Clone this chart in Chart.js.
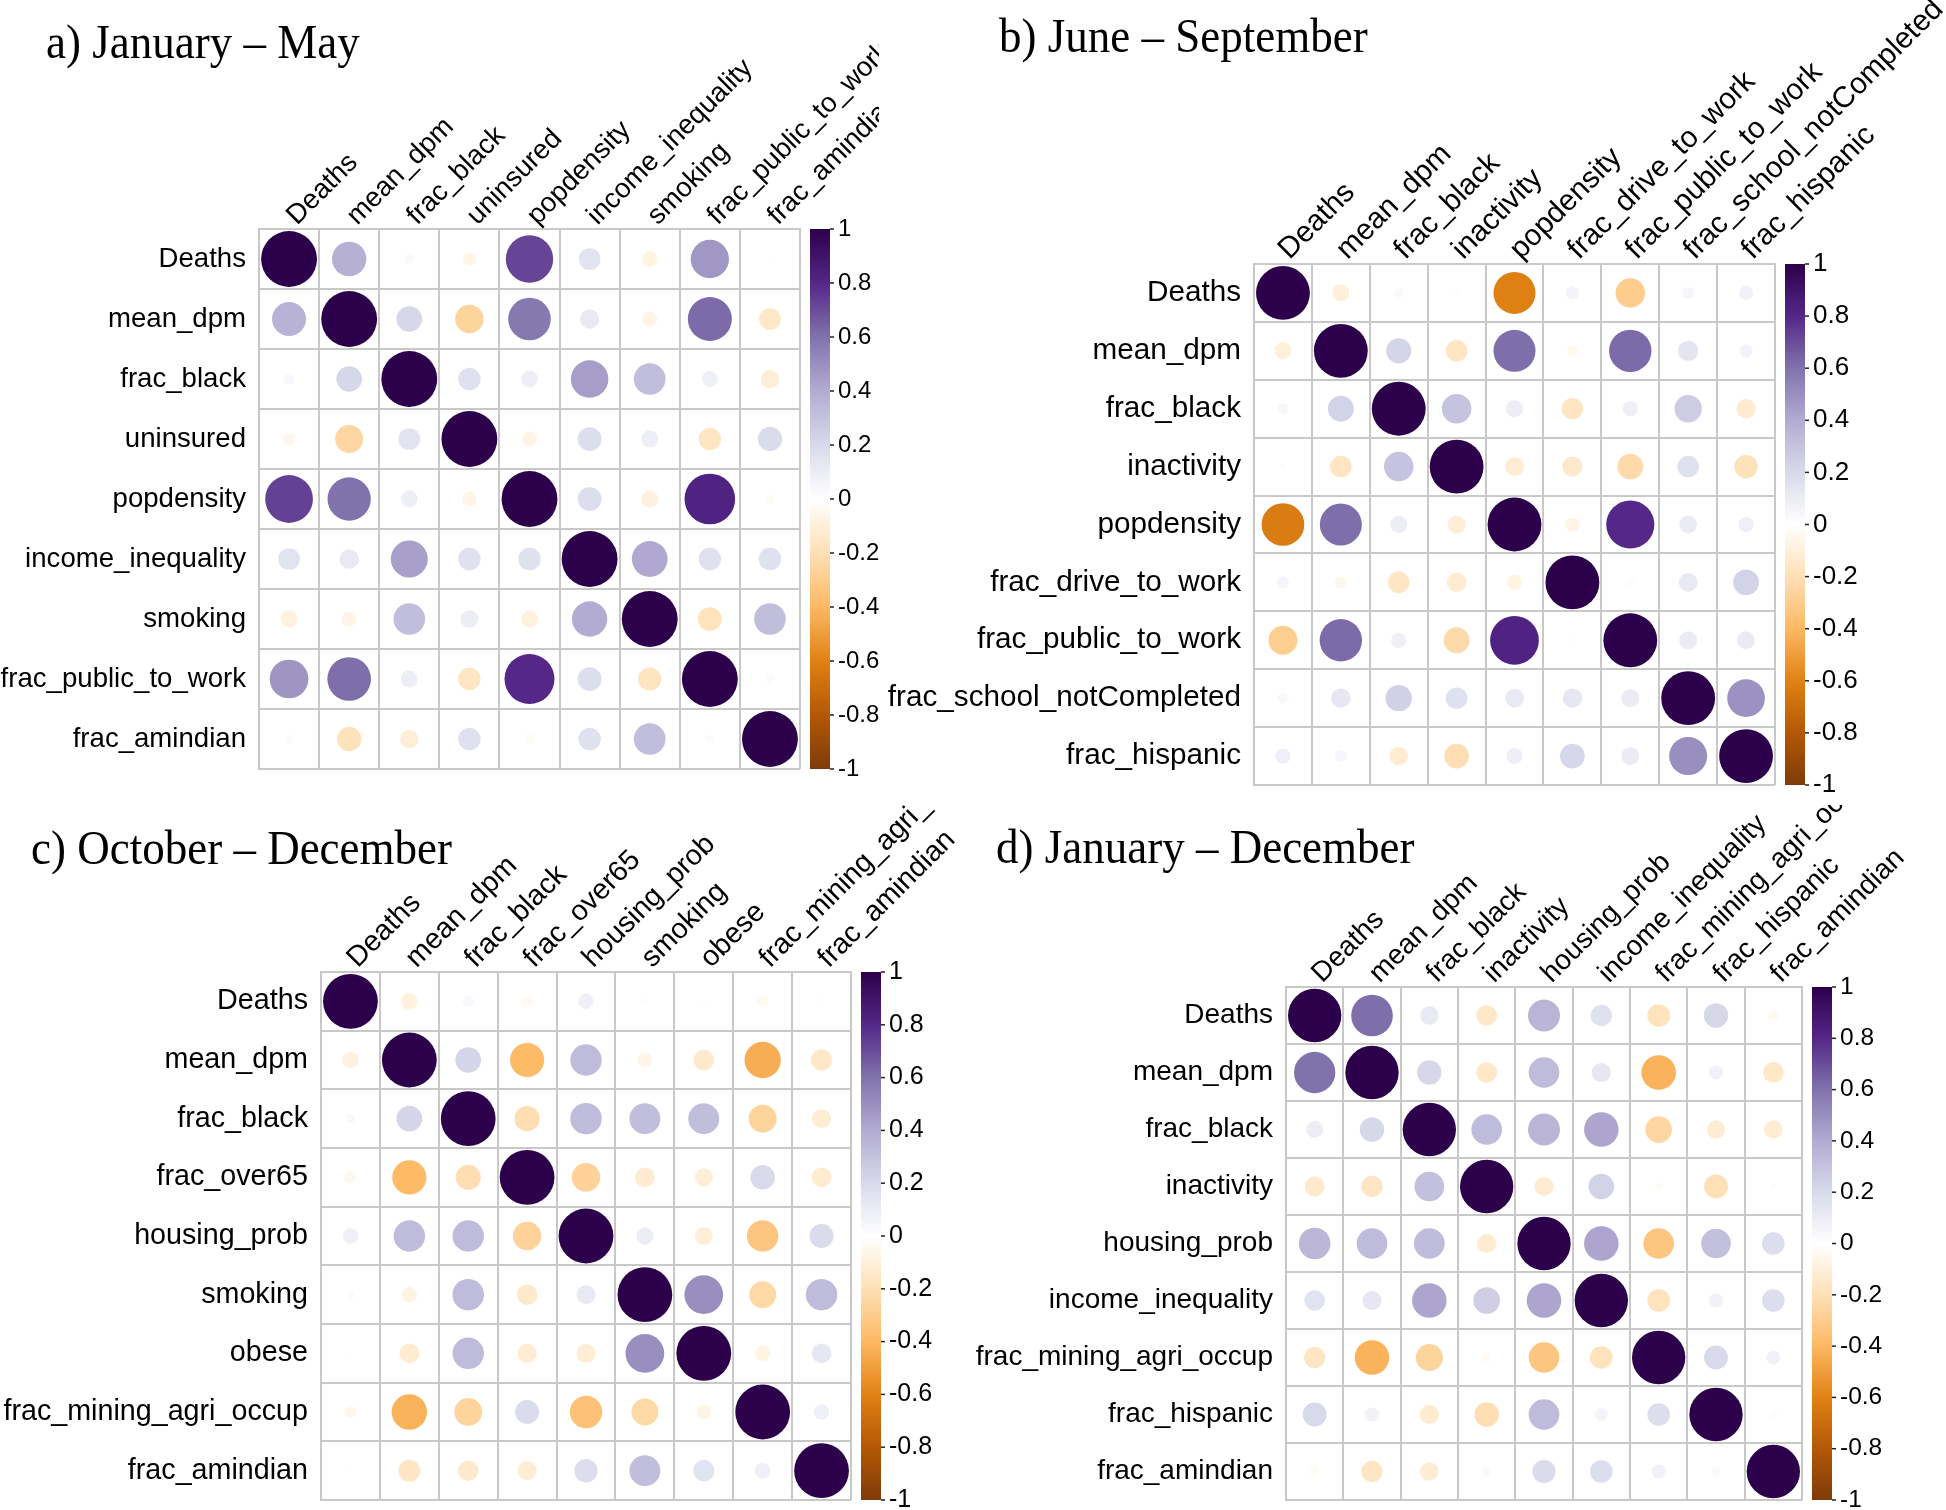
<!DOCTYPE html>
<html>
<head>
<meta charset="utf-8">
<script src="https://cdn.jsdelivr.net/npm/chart.js@4.4.1/dist/chart.umd.min.js"></script>
<style>
  body { margin: 0; background: #fff; }
  #wrap { position: relative; width: 1946px; height: 1510px; overflow: hidden; }
  canvas { position: absolute; }
</style>
</head>
<body>
<div id="wrap">
  <canvas id="chartA" width="879" height="805" style="left:0;top:0"></canvas>
  <canvas id="chartB" width="1067" height="805" style="left:879px;top:0"></canvas>
  <canvas id="chartC" width="960" height="705" style="left:0;top:805px"></canvas>
  <canvas id="chartD" width="986" height="705" style="left:960px;top:805px"></canvas>
</div>
<script>
// variables of each panel (rows == columns)
const varsA = ['Deaths', 'mean_dpm', 'frac_black', 'uninsured', 'popdensity',
  'income_inequality', 'smoking', 'frac_public_to_work', 'frac_amindian'];
const varsB = ['Deaths', 'mean_dpm', 'frac_black', 'inactivity', 'popdensity',
  'frac_drive_to_work', 'frac_public_to_work', 'frac_school_notCompleted', 'frac_hispanic'];
const varsC = ['Deaths', 'mean_dpm', 'frac_black', 'frac_over65', 'housing_prob',
  'smoking', 'obese', 'frac_mining_agri_occup', 'frac_amindian'];
const varsD = ['Deaths', 'mean_dpm', 'frac_black', 'inactivity', 'housing_prob',
  'income_inequality', 'frac_mining_agri_occup', 'frac_hispanic', 'frac_amindian'];

// correlation values, read row by row
const corrA = [
  [1, 0.38, 0.03, -0.06, 0.72, 0.15, -0.08, 0.47, 0.005],
  [0.37, 1, 0.21, -0.26, 0.58, 0.12, -0.07, 0.62, -0.15],
  [0.04, 0.21, 1, 0.16, 0.09, 0.45, 0.32, 0.08, -0.11],
  [-0.05, -0.25, 0.15, 1, -0.07, 0.18, 0.09, -0.16, 0.19],
  [0.73, 0.6, 0.09, -0.07, 1, 0.18, -0.09, 0.82, -0.02],
  [0.15, 0.12, 0.44, 0.16, 0.16, 1, 0.41, 0.16, 0.16],
  [-0.09, -0.07, 0.32, 0.1, -0.09, 0.4, 1, -0.18, 0.32],
  [0.48, 0.61, 0.09, -0.16, 0.8, 0.18, -0.17, 1, 0.02],
  [0.02, -0.19, -0.11, 0.16, -0.03, 0.16, 0.32, 0.02, 1]
];
const corrB = [
  [1, -0.1, 0.03, -0.01, -0.61, 0.06, -0.3, 0.05, 0.07],
  [-0.1, 1, 0.22, -0.16, 0.61, -0.04, 0.62, 0.14, 0.06],
  [0.04, 0.23, 1, 0.3, 0.1, -0.16, 0.08, 0.26, -0.13],
  [0.015, -0.16, 0.3, 1, -0.12, -0.14, -0.23, 0.16, -0.19],
  [-0.63, 0.61, 0.1, -0.11, 1, -0.07, 0.8, 0.11, 0.08],
  [0.05, -0.05, -0.16, -0.13, -0.08, 1, -0.02, 0.12, 0.23],
  [-0.29, 0.62, 0.08, -0.23, 0.82, 0.01, 1, 0.11, 0.11],
  [0.04, 0.13, 0.24, 0.16, 0.12, 0.13, 0.11, 1, 0.49],
  [0.08, 0.05, -0.12, -0.21, 0.09, 0.21, 0.11, 0.5, 1]
];
const corrC = [
  [1, -0.09, 0.04, -0.04, 0.08, 0.01, 0.01, -0.04, 0.01],
  [-0.09, 1, 0.22, -0.39, 0.33, -0.07, -0.14, -0.44, -0.15],
  [0.03, 0.22, 1, -0.21, 0.33, 0.32, 0.32, -0.26, -0.12],
  [-0.05, -0.39, -0.21, 1, -0.27, -0.13, -0.11, 0.2, -0.13],
  [0.08, 0.33, 0.33, -0.27, 1, 0.1, -0.11, -0.33, 0.19],
  [0.02, -0.08, 0.33, -0.14, 0.12, 1, 0.5, -0.24, 0.33],
  [0.01, -0.13, 0.33, -0.12, -0.12, 0.5, 1, -0.08, 0.13],
  [-0.05, -0.42, -0.26, 0.19, -0.35, -0.24, -0.07, 1, 0.08],
  [0.01, -0.16, -0.14, -0.12, 0.18, 0.32, 0.15, 0.08, 1]
];
const corrD = [
  [1, 0.61, 0.12, -0.15, 0.36, 0.16, -0.18, 0.21, -0.04],
  [0.6, 1, 0.21, -0.15, 0.33, 0.13, -0.42, 0.07, -0.15],
  [0.1, 0.21, 1, 0.33, 0.36, 0.42, -0.25, -0.12, -0.12],
  [-0.14, -0.16, 0.31, 1, -0.13, 0.23, -0.02, -0.2, 0.015],
  [0.35, 0.33, 0.33, -0.13, 1, 0.42, -0.33, 0.31, 0.18],
  [0.15, 0.13, 0.42, 0.25, 0.42, 1, -0.18, 0.07, 0.18],
  [-0.16, -0.42, -0.26, -0.03, -0.33, -0.18, 1, 0.2, 0.07],
  [0.2, 0.07, -0.13, -0.21, 0.33, 0.06, 0.18, 1, -0.02],
  [-0.03, -0.16, -0.12, 0.03, 0.19, 0.18, 0.07, 0.03, 1]
];

const titles = ['a) January – May', 'b) June – September', 'c) October – December', 'd) January – December'];
const colorbarTicks = [-1, -0.8, -0.6, -0.4, -0.2, 0, 0.2, 0.4, 0.6, 0.8, 1];

// PuOr diverging palette, -1 .. 1
const puOr = ['#7f3b08', '#b35806', '#e08214', '#fdb863', '#fee0b6', '#ffffff',
  '#d8daeb', '#b2abd2', '#8073ac', '#542788', '#2d004b'];

function hexRgb(h) {
  return [parseInt(h.slice(1, 3), 16), parseInt(h.slice(3, 5), 16), parseInt(h.slice(5, 7), 16)];
}
function corrColor(v) {
  let t = (v + 1) / 2 * 10;
  let i = Math.min(9, Math.max(0, Math.floor(t)));
  let f = t - i;
  let a = hexRgb(puOr[i]), b = hexRgb(puOr[i + 1]);
  let c = a.map((x, k) => Math.round(x + (b[k] - x) * f));
  return `rgb(${c[0]},${c[1]},${c[2]})`;
}

const labelFont = 'Liberation Sans, Arial, Helvetica, sans-serif';
const gridColor = '#c8c8c8';

// no automatic padding from labels, the boxes are sized by hand
function noPad(s) {
  s.paddingLeft = 0; s.paddingRight = 0; s.paddingTop = 0; s.paddingBottom = 0;
}

// titles drawn on canvas, slightly tall like the original
const titlePlugin = {
  id: 'panelTitle',
  afterDraw(chart, args, opts) {
    const ctx = chart.ctx;
    ctx.save();
    ctx.font = '45px "Liberation Serif", "Times New Roman", serif';
    ctx.fillStyle = '#000';
    ctx.textBaseline = 'alphabetic';
    ctx.translate(opts.x, opts.y);
    ctx.scale(1, 1.07);
    ctx.fillText(opts.text, 0, 0);
    ctx.restore();
  }
};

// gradient bar beside the matrix, placed on the cb axis
const colorbarPlugin = {
  id: 'colorbar',
  afterDatasetsDraw(chart) {
    const cb = chart.scales.cb;
    const ctx = chart.ctx;
    const x0 = chart.chartArea.right + 10;
    const bw = 20;
    const top = cb.getPixelForValue(1);
    const bot = cb.getPixelForValue(-1);
    const g = ctx.createLinearGradient(0, bot, 0, top);
    puOr.forEach((c, i) => g.addColorStop(i / 10, c));
    ctx.save();
    ctx.fillStyle = g;
    ctx.fillRect(x0, top, bw, bot - top);
    ctx.strokeStyle = '#222';
    ctx.lineWidth = 1.5;
    cb.ticks.forEach(t => {
      const y = cb.getPixelForValue(t.value);
      ctx.beginPath();
      ctx.moveTo(x0 + bw, y);
      ctx.lineTo(x0 + bw + 4, y);
      ctx.stroke();
    });
    ctx.restore();
  }
};

function makePanel(id, vars, corr, title, g, titlePos, fs, cbfs) {
  const canvas = document.getElementById(id);
  const w = canvas.width, h = canvas.height;
  const cell = (g.r - g.l) / vars.length;
  let points = [];
  for (let i = 0; i < vars.length; i++) {
    for (let j = 0; j < vars.length; j++) {
      points.push({ x: vars[j], y: vars[i], v: corr[i][j] });
    }
  }
  return new Chart(canvas.getContext('2d'), {
    type: 'bubble',
    data: {
      datasets: [{
        data: points,
        backgroundColor: ctx => (ctx.raw ? corrColor(ctx.raw.v) : '#ffffff'),
        borderWidth: 0,
        hoverBorderWidth: 0,
        // circle area follows |r|, like corrplot
        radius: ctx => (ctx.raw ? 0.465 * cell * Math.sqrt(Math.abs(ctx.raw.v)) : 0)
      }]
    },
    options: {
      responsive: false,
      animation: false,
      events: [],
      layout: { autoPadding: false, padding: { left: 0, top: 0, right: 0, bottom: h - g.b } },
      plugins: {
        legend: { display: false },
        tooltip: { enabled: false },
        panelTitle: { text: title, x: titlePos[0], y: titlePos[1] }
      },
      scales: {
        x: {
          type: 'category',
          position: 'top',
          labels: vars,
          offset: true,
          grid: { offset: true, color: gridColor, lineWidth: 2, drawTicks: false },
          border: { color: gridColor, width: 2 },
          ticks: {
            autoSkip: false, minRotation: 45, maxRotation: 45, padding: -3, labelOffset: 26,
            color: '#000', font: { family: labelFont, size: fs }
          },
          afterFit: s => { s.height = g.t; noPad(s); }
        },
        y: {
          type: 'category',
          position: 'left',
          labels: vars,
          offset: true,
          grid: { offset: true, color: gridColor, lineWidth: 2, drawTicks: false },
          border: { color: gridColor, width: 2 },
          ticks: { autoSkip: false, padding: 13, color: '#000', font: { family: labelFont, size: fs } },
          afterFit: s => { s.width = g.l; noPad(s); }
        },
        cb: {
          type: 'linear',
          position: 'right',
          min: -1,
          max: 1,
          grid: { display: false, drawTicks: false },
          border: { display: false },
          afterBuildTicks: s => { s.ticks = colorbarTicks.map(v => ({ value: v })); },
          ticks: {
            padding: 38, color: '#000', font: { family: labelFont, size: cbfs },
            callback: v => String(Math.round(v * 10) / 10)
          },
          afterFit: s => { s.width = w - g.r; noPad(s); }
        }
      }
    },
    plugins: [titlePlugin, colorbarPlugin]
  });
}

makePanel('chartA', varsA, corrA, titles[0], { l: 259, t: 229, r: 800, b: 769 }, [46, 58], 27.6, 24);
makePanel('chartB', varsB, corrB, titles[1], { l: 375, t: 264, r: 896, b: 785 }, [120, 52], 29.7, 26);
makePanel('chartC', varsC, corrC, titles[2], { l: 321, t: 167, r: 851, b: 695 }, [31, 59], 28.7, 25);
makePanel('chartD', varsD, corrD, titles[3], { l: 326, t: 182, r: 842, b: 695 }, [36, 58], 28, 24.5);
</script>
</body>
</html>
